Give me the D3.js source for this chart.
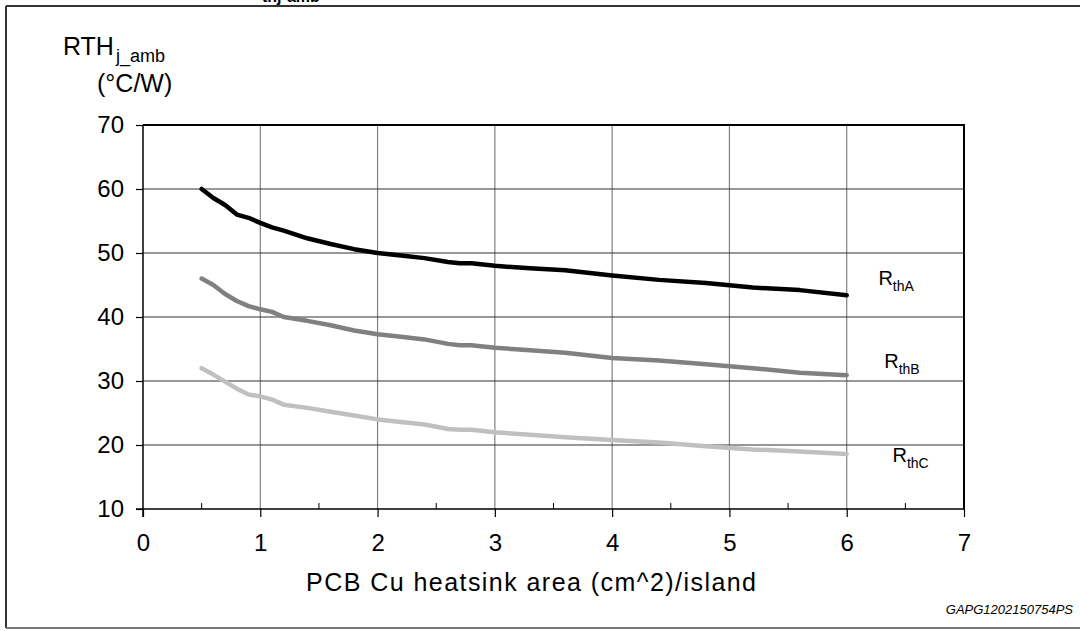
<!DOCTYPE html>
<html>
<head>
<meta charset="utf-8">
<script src="https://cdn.jsdelivr.net/npm/d3@7"></script>
<style>
  html, body { margin: 0; padding: 0; background: #fff; }
  svg text { font-family: "Liberation Sans", Arial, sans-serif; fill: #000; }
</style>
</head>
<body>
<svg id="chart" width="1080" height="631"></svg>
<script>
// curve samples (x = cm^2, y = °C/W)
var areaX = [0.5, 0.6, 0.7, 0.8, 0.9, 1.0, 1.1, 1.2, 1.4, 1.6, 1.8, 2.0, 2.2, 2.4, 2.6, 2.7, 2.8, 3.0, 3.3, 3.6, 4.0, 4.4, 4.8, 5.2, 5.6, 6.0];
var rthA  = [60.0, 58.6, 57.5, 56.0, 55.5, 54.7, 54.0, 53.5, 52.3, 51.4, 50.6, 50.0, 49.6, 49.2, 48.6, 48.4, 48.4, 48.0, 47.6, 47.3, 46.5, 45.8, 45.3, 44.6, 44.2, 43.4];
var rthB  = [46.0, 45.0, 43.6, 42.5, 41.7, 41.2, 40.8, 40.0, 39.4, 38.7, 37.9, 37.3, 36.9, 36.5, 35.8, 35.6, 35.6, 35.2, 34.8, 34.4, 33.6, 33.2, 32.6, 32.0, 31.3, 30.9];
var rthC  = [32.0, 31.0, 29.9, 28.8, 27.9, 27.6, 27.1, 26.3, 25.8, 25.2, 24.6, 24.0, 23.6, 23.2, 22.5, 22.4, 22.4, 22.0, 21.6, 21.2, 20.8, 20.4, 19.8, 19.3, 19.0, 18.6];

var seriesNames = ["A", "B", "C"];
var seriesColors = ["#000000", "#808080", "#c0c0c0"];
// where each curve label sits, in data units
var labelX = [6.27, 6.32, 6.39];
var labelY = [45.0, 32.0, 17.3];

var xTicks = [0, 1, 2, 3, 4, 5, 6, 7];
var xMinorTicks = [0.5, 1.5, 2.5, 3.5, 4.5, 5.5, 6.5];
var yTicks = [10, 20, 30, 40, 50, 60, 70];

var svg = d3.select("#chart");

// plot box
var pLeft = 143, pRight = 964, pTop = 125, pBottom = 509;

var x = d3.scaleLinear().domain([0, 7]).range([pLeft, pRight]);
var y = d3.scaleLinear().domain([10, 70]).range([pBottom, pTop]);

// outer frame (cut off on the right, like the scan)
svg.append("line").attr("x1", 6).attr("x2", 1080).attr("y1", 6).attr("y2", 6)
    .style("stroke", "#333").style("stroke-width", 2);
svg.append("line").attr("x1", 6).attr("x2", 6).attr("y1", 6).attr("y2", 628)
    .style("stroke", "#333").style("stroke-width", 2);
svg.append("line").attr("x1", 6).attr("x2", 1080).attr("y1", 628).attr("y2", 628)
    .style("stroke", "#777").style("stroke-width", 2);

// figure title, mostly cropped away above the frame
var title = svg.append("text").attr("y", -7)
    .style("font-weight", "bold").style("font-size", "22px");
title.append("tspan").attr("x", 108).text("Figure 5. R");
title.append("tspan").attr("x", 262).attr("dy", 9).style("font-size", "16px").text("thj-amb");
title.append("tspan").attr("x", 346).attr("dy", -9).text("vs PCB copper area in open box free air condition");

// grid
svg.append("g").selectAll("line").data(xTicks.slice(1, -1)).enter().append("line")
    .attr("x1", function(d) { return x(d); }).attr("x2", function(d) { return x(d); })
    .attr("y1", pTop).attr("y2", pBottom)
    .style("stroke", "#808080").style("stroke-width", 1.2);

svg.append("g").selectAll("line").data(yTicks.slice(1, -1)).enter().append("line")
    .attr("x1", pLeft).attr("x2", pRight)
    .attr("y1", function(d) { return y(d); }).attr("y2", function(d) { return y(d); })
    .style("stroke", "#333").style("stroke-width", 1.2);

// top and right border of the plot
svg.append("path")
    .attr("d", "M" + pLeft + "," + pTop + "H" + pRight + "V" + pBottom)
    .style("fill", "none").style("stroke", "#000").style("stroke-width", 2);

// axes
var yAxis = d3.axisLeft(y).tickValues(yTicks).tickFormat(d3.format("d")).tickSize(7).tickPadding(12);
var gy = svg.append("g").attr("transform", "translate(" + pLeft + ",0)").call(yAxis);
gy.select(".domain").remove();
gy.selectAll(".tick line").style("stroke", "#000").style("stroke-width", 1.2);
gy.selectAll("text").style("font-size", "24px").style("font-family", "Liberation Sans, Arial, sans-serif");
svg.append("line").attr("x1", pLeft).attr("x2", pLeft).attr("y1", pTop).attr("y2", pBottom + 8)
    .style("stroke", "#000").style("stroke-width", 1.5);

var xAxis = d3.axisBottom(x).tickValues(xTicks).tickFormat(d3.format("d")).tickSize(8).tickPadding(17);
var gx = svg.append("g").attr("transform", "translate(0," + pBottom + ")").call(xAxis);
gx.select(".domain").remove();
gx.selectAll(".tick line").style("stroke", "#000").style("stroke-width", 1.2);
gx.selectAll("text").style("font-size", "24px").style("font-family", "Liberation Sans, Arial, sans-serif");
svg.append("line").attr("x1", pLeft - 7).attr("x2", pRight).attr("y1", pBottom).attr("y2", pBottom)
    .style("stroke", "#000").style("stroke-width", 1.5);

// small half-step ticks inside the plot
svg.append("g").selectAll("line").data(xMinorTicks).enter().append("line")
    .attr("x1", function(d) { return x(d); }).attr("x2", function(d) { return x(d); })
    .attr("y1", pBottom - 6).attr("y2", pBottom)
    .style("stroke", "#000").style("stroke-width", 1);

// curves
var allSeries = [rthA, rthB, rthC];
var line = d3.line()
    .x(function(d) { return x(d[0]); })
    .y(function(d) { return y(d[1]); });

allSeries.forEach(function(vals, i) {
    var pts = areaX.map(function(a, k) { return [a, vals[k]]; });
    svg.append("path").datum(pts)
        .attr("d", line)
        .style("fill", "none")
        .style("stroke", seriesColors[i])
        .style("stroke-width", 4.5)
        .style("stroke-linecap", "round")
        .style("stroke-linejoin", "round");

    var lbl = svg.append("text")
        .attr("x", x(labelX[i])).attr("y", y(labelY[i]))
        .style("font-size", "20px");
    lbl.append("tspan").text("R");
    lbl.append("tspan").attr("dy", 6).style("font-size", "14px").text("th" + seriesNames[i]);
});

// axis titles
var yt = svg.append("text").attr("x", 63).attr("y", 55).style("font-size", "25px");
yt.append("tspan").text("RTH");
yt.append("tspan").attr("dx", 2).attr("dy", 7).style("font-size", "18px").text("j_amb");
svg.append("text").attr("x", 97).attr("y", 92).style("font-size", "25px").text("(°C/W)");

svg.append("text").attr("x", 306).attr("y", 591)
    .attr("textLength", 450).attr("lengthAdjust", "spacing")
    .style("font-size", "25px")
    .text("PCB Cu heatsink area (cm^2)/island");

svg.append("text").attr("x", 1073).attr("y", 614)
    .attr("text-anchor", "end")
    .style("font-size", "13px").style("font-style", "italic")
    .text("GAPG1202150754PS");
</script>
</body>
</html>
